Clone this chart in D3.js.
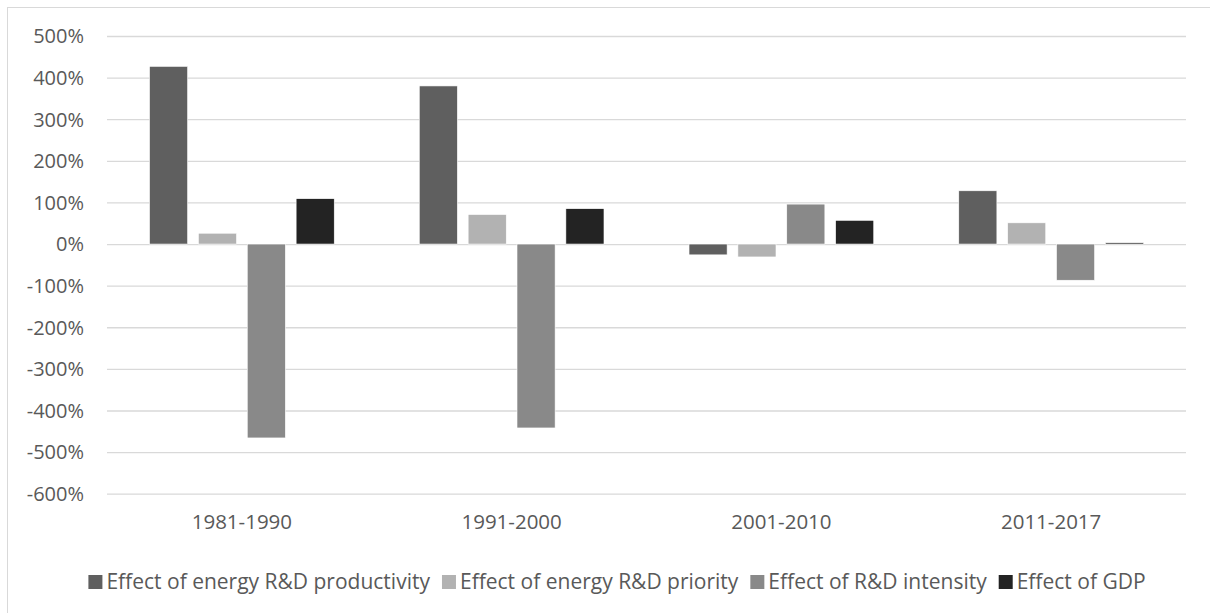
<!DOCTYPE html>
<html><head><meta charset="utf-8">
<script src="https://cdn.jsdelivr.net/npm/d3@7"></script>
<style>
html,body{margin:0;padding:0;background:#fff;}
svg text{font-family:"Open Sans",sans-serif;fill:#595959;}
</style></head>
<body><svg id="c" width="1210" height="613"></svg>
<script>
const categories = ["1981-1990","1991-2000","2001-2010","2011-2017"];
const seriesNames = ["Effect of energy R&D productivity","Effect of energy R&D priority","Effect of R&D intensity","Effect of GDP"];
const productivity = [4.27, 3.80, -0.26, 1.28];
const priority = [0.26, 0.71, -0.31, 0.51];
const intensity = [-4.66, -4.42, 0.96, -0.87];
const gdp = [1.09, 0.85, 0.57, 0.03];
const yTicks = [5,4,3,2,1,0,-1,-2,-3,-4,-5,-6];
const colors = ["#5f5f5f","#b2b2b2","#898989","#232323"];

(function(){
const series = [productivity, priority, intensity, gdp];
const svg = d3.select("#c");
const pLeft = 107, pRight = 1186, pTop = 36, pBottom = 493.7;

// frame
svg.append("rect").attr("x",7.5).attr("y",7.5).attr("width",1250).attr("height",700)
  .attr("fill","none").attr("stroke","#d9d9d9").attr("stroke-width",1);

const y = d3.scaleLinear().domain([-6,5]).range([pBottom, pTop]);
const x0 = d3.scaleBand().domain(categories).range([pLeft, pRight]).padding(0);
const outer = x0.bandwidth()*0.1576;
const x1 = d3.scaleBand().domain(d3.range(4)).range([outer, x0.bandwidth()-outer]).paddingInner(0.22).paddingOuter(0);

// gridlines
const yAxis = d3.axisLeft(y).tickValues(yTicks).tickSize(-(pRight-pLeft)).tickPadding(23)
  .tickFormat(d => Math.round(d*100) + "%");
const ga = svg.append("g").attr("transform",`translate(${pLeft},0)`).call(yAxis);
ga.select(".domain").remove();
ga.selectAll(".tick line").attr("stroke","#d9d9d9").attr("stroke-width",1.3);
ga.selectAll(".tick text").attr("font-size",20).attr("fill","#595959").attr("dy","0.34em");

// bars
const g = svg.append("g");
categories.forEach((c, i) => {
  series.forEach((s, j) => {
    const v = s[i];
    g.append("rect")
      .attr("x", x0(c) + x1(j))
      .attr("width", x1.bandwidth())
      .attr("y", y(Math.max(0, v)))
      .attr("height", Math.abs(y(v) - y(0)))
      .attr("fill", colors[j])
      .attr("stroke","#ffffff").attr("stroke-width",0.6);
  });
});

// x axis labels
const xAxis = d3.axisBottom(x0).tickSize(0).tickPadding(0);
const gx = svg.append("g").attr("transform",`translate(0,${pBottom})`).call(xAxis);
gx.select(".domain").remove();
gx.selectAll(".tick text").attr("font-size",20.5).attr("fill","#595959").attr("dy","0").attr("y",35);

// legend
const legend = svg.append("g").attr("transform","translate(0,582)");
const items = [];
seriesNames.forEach((n, j) => {
  const it = legend.append("g");
  it.append("rect").attr("x",0).attr("y",-7).attr("width",14).attr("height",14).attr("fill",colors[j]);
  const t = it.append("text").attr("x",18).attr("y",0).attr("dy","0.35em").attr("font-size",21).text(n);
  const w = 18 + t.node().getComputedTextLength();
  items.push({it, w});
});
const gap = 12;
const total = d3.sum(items, d=>d.w) + gap*(items.length-1);
let sx = 617 - total/2;
items.forEach(d => { d.it.attr("transform",`translate(${sx},0)`); sx += d.w + gap; });
})();
</script></body></html>
